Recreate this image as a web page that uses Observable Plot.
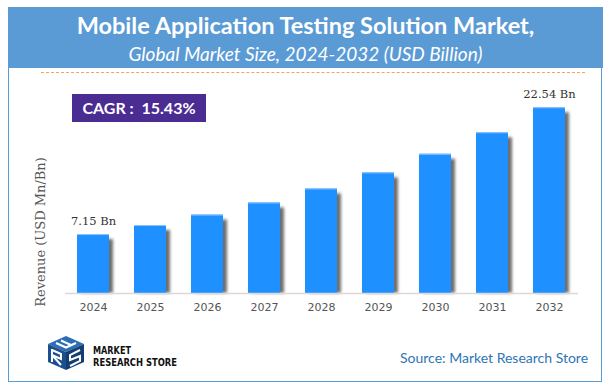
<!DOCTYPE html>
<html>
<head>
<meta charset="utf-8">
<script src="https://cdn.jsdelivr.net/npm/d3@7"></script>
<script src="https://cdn.jsdelivr.net/npm/@observablehq/plot@0.6"></script>
<style>
  html, body { margin: 0; padding: 0; background: #fff; }
  #wrap { position: relative; width: 610px; height: 390px; overflow: hidden; background: #fff; }
  #frame { position: absolute; left: 8px; top: 7px; width: 592px; height: 373px; border: 1.5px solid #5B9BD5; box-sizing: content-box; }
  #header { position: absolute; left: 8px; top: 7px; width: 595px; height: 61px; background: #5B9BD5; color: #fff; text-align: center; }
  #title { position: absolute; left: 0; right: 0; top: 4px; font-family: Lato, "Open Sans", sans-serif; font-weight: 700; font-size: 23.5px; white-space: nowrap; }
  #subtitle { position: absolute; left: 0; right: 0; top: 35px; font-family: Lato, "Open Sans", sans-serif; font-style: italic; font-size: 19px; white-space: nowrap; }
  #dash { position: absolute; left: 41px; top: 72px; width: 544px; height: 0; border-top: 1.5px dashed #F4A261; }
  #cagr { position: absolute; left: 72px; top: 94px; width: 134px; height: 28px; background: #4B2C93; color: #fff; font-family: Lato, "Open Sans", sans-serif; font-weight: 700; font-size: 16px; line-height: 28px; text-align: center; white-space: nowrap; }
  #ylabel { position: absolute; left: 40px; top: 232px; transform: translate(-50%, -50%) rotate(-90deg); font-family: "DejaVu Serif", serif; font-size: 13px; color: #555; white-space: nowrap; }
  #source { position: absolute; left: 400px; top: 349px; font-family: Lato, "Open Sans", sans-serif; font-size: 14px; color: #2E75B6; white-space: nowrap; }
  #chart { position: absolute; left: 0; top: 0; }
  #logo { position: absolute; left: 48px; top: 335px; }
</style>
</head>
<body>
<div id="wrap">
  <div id="frame"></div>
  <div id="chart"></div>
  <div id="header">
    <div id="title">Mobile Application Testing Solution Market,</div>
    <div id="subtitle">Global Market Size, 2024-2032 (USD Billion)</div>
  </div>
  <div id="dash"></div>
  <div id="cagr">CAGR :&nbsp; 15.43%</div>
  <div id="ylabel">Revenue (USD Mn/Bn)</div>
  <svg id="logo" width="180" height="40" viewBox="0 0 180 40">
    <polygon points="18,1 36,9 18,17 0,9" fill="#2C6DB3"/>
    <polygon points="0,9 18,17 18,35 0,27" fill="#1B4F8E"/>
    <polygon points="18,17 36,9 36,27 18,35" fill="#143E72"/>
    <polyline points="8,8 18,12.5 28,8" fill="none" stroke="#fff" stroke-width="2.2"/>
    <polyline points="13,5.5 23,10" fill="none" stroke="#fff" stroke-width="2"/>
    <polyline points="4,15 13,19 13,24 4,20 13,30" fill="none" stroke="#fff" stroke-width="2"/>
    <polyline points="4,14 4,27" fill="none" stroke="#fff" stroke-width="2"/>
    <polyline points="32,15 22,20 22,25 32,21 32,26 22,31" fill="none" stroke="#fff" stroke-width="2"/>
    <text x="45" y="18.5" font-family="'DejaVu Sans Condensed', 'DejaVu Sans', sans-serif" font-weight="700" font-size="10.5" fill="#111" textLength="38" lengthAdjust="spacingAndGlyphs">MARKET</text>
    <text x="45" y="30.5" font-family="'DejaVu Sans Condensed', 'DejaVu Sans', sans-serif" font-weight="700" font-size="10.5" fill="#111" textLength="84" lengthAdjust="spacingAndGlyphs">RESEARCH STORE</text>
  </svg>
  <div id="source">Source: Market Research Store</div>
</div>
<script>
const years = ["2024", "2025", "2026", "2027", "2028", "2029", "2030", "2031", "2032"];
const revenue = [7.15, 8.25, 9.52, 10.99, 12.69, 14.64, 16.90, 19.51, 22.54];
const valueLabels = ["7.15 Bn", "", "", "", "", "", "", "", "22.54 Bn"];

const data = years.map((year, i) => ({ year, value: revenue[i], label: valueLabels[i] }));

const chart = Plot.plot({
  width: 610,
  height: 390,
  marginTop: 87,
  marginBottom: 97,
  marginLeft: 52,
  marginRight: 20,
  style: { background: "transparent", fontFamily: "'DejaVu Sans', sans-serif" },
  x: { domain: years, padding: 0.439, round: false, label: null, tickSize: 0, tickPadding: 10 },
  y: { domain: [0, 25], axis: null },
  marks: [
    Plot.barY(data, { x: "year", y: "value", fill: "#555", dx: 4, insetTop: 5 }),
    Plot.barY(data, { x: "year", y: "value", fill: "#1E90FF" }),
    Plot.tickY(data, { x: "year", y: "value", stroke: "#8CC6FF", strokeWidth: 1 }),
    Plot.ruleY([0], { stroke: "#d9d9d9", strokeWidth: 1.5, insetLeft: 13, insetRight: 12 }),
    Plot.text(data.filter(d => d.label), { x: "year", y: "value", text: "label", dy: -13, fill: "#333", fontSize: 11.5, fontFamily: "'DejaVu Serif', serif" }),
    Plot.axisX({ tickSize: 0, tickPadding: 10, fontSize: 11, color: "#555", label: null })
  ]
});

// soft drop shadow for the bars
const svg = d3.select(chart);
const defs = svg.insert("defs", ":first-child");
defs.append("filter").attr("id", "barShadow").attr("x", "-20%").attr("y", "-20%").attr("width", "150%").attr("height", "140%")
  .append("feGaussianBlur").attr("stdDeviation", 1.6);
const barGroups = chart.querySelectorAll('g[aria-label="bar"]');
if (barGroups.length) {
  barGroups[0].setAttribute("filter", "url(#barShadow)");
  barGroups[0].setAttribute("opacity", "0.85");
}
svg.selectAll('g[aria-label="x-axis tick label"] text').attr("fill", "#555");

document.getElementById("chart").appendChild(chart);
</script>
</body>
</html>
